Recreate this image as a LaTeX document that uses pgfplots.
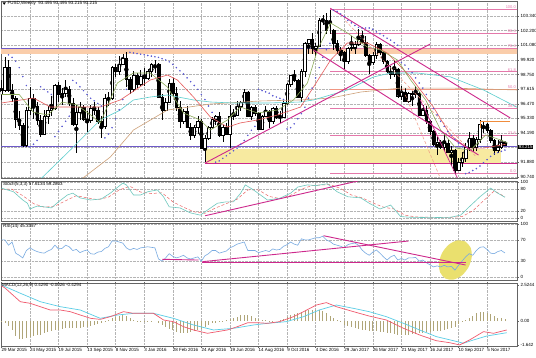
\documentclass[border=0pt]{standalone}
\usepackage{fontspec}
\setmainfont{Liberation Sans}
\usepackage{pgfplots}
\pgfplotsset{compat=1.18}
\usepackage{pgfplotstable}
\definecolor{gridc}{RGB}{180,180,180}
\definecolor{framec}{RGB}{100,100,100}
\definecolor{purpl}{RGB}{110,90,200}
\definecolor{orangeband}{RGB}{250,205,170}
\definecolor{yellowbox}{RGB}{247,234,160}
\definecolor{magen}{RGB}{205,40,140}
\definecolor{fibc}{RGB}{228,120,170}
\definecolor{mared}{RGB}{230,90,90}
\definecolor{magreen}{RGB}{140,170,90}
\definecolor{macyan}{RGB}{90,205,205}
\definecolor{matan}{RGB}{205,160,120}
\definecolor{sarc}{RGB}{90,90,210}
\definecolor{stochc}{RGB}{110,200,190}
\definecolor{stochs}{RGB}{235,100,100}
\definecolor{rsic}{RGB}{120,170,225}
\definecolor{macdr}{RGB}{240,90,110}
\definecolor{macdc}{RGB}{90,205,230}
\definecolor{histc}{RGB}{175,165,120}
\definecolor{ellc}{RGB}{234,224,110}
\definecolor{orangel}{RGB}{240,140,60}
\definecolor{salm}{RGB}{240,150,130}
\newcommand{\tf}{\fontsize{4.5}{5}\selectfont}
\pgfplotsset{
  panel/.style={scale only axis, width=516pt, xmin=-0.1, xmax=144.38,
    axis line style={framec, line width=0.7pt},
    xtick={0,8,...,136}, xticklabels={}, xmajorgrids,
    major grid style={gridc, densely dotted, line width=0.35pt},
    yticklabel pos=right, ytick pos=right, tick align=outside,
    major tick length=1.5pt, tick style={framec, line width=0.4pt},
    xtick style={draw=none},
    yticklabel style={font=\tf, anchor=west, inner sep=0pt, xshift=2pt},
    clip=true},
  mainbox/.style={scale only axis, width=516pt, height=177pt, xmin=-0.1, xmax=144.38,
    ymin=90.662, ymax=104.514, at={(1pt,356pt)}, anchor=north west, clip=true},
  candlewick/.style={black, only marks, mark=none, error bars/.cd, y dir=both, y explicit, error mark=none, error bar style={draw=black, line width=0.5pt}},
}
\pgfplotstableread{
i o h l c
0 97.2 98.3 96.8 97.5
1 97.5 100.1 97.4 99.3
2 99.3 99.9 97.4 97.5
3 97.5 98.0 96.6 96.9
4 96.9 97.1 94.6 95.3
5 95.3 95.9 94.4 94.8
6 94.8 95.0 93.1 93.2
7 93.2 96.2 93.1 96.0
8 96.0 97.8 95.6 96.9
9 96.9 97.2 95.3 96.3
10 96.3 96.6 94.8 95.2
11 95.2 95.6 93.9 94.1
12 94.1 96.0 94.0 95.5
13 95.5 96.3 94.9 96.0
14 96.0 97.1 95.5 96.1
15 96.1 98.0 96.0 97.9
16 97.9 98.2 96.6 97.2
17 97.2 97.7 96.4 97.3
18 97.3 98.3 97.0 97.6
19 97.6 97.9 96.3 96.5
20 96.5 96.9 94.7 94.9
21 94.9 96.4 92.6 95.8
22 95.8 96.6 95.2 96.2
23 96.2 96.4 95.1 95.3
24 95.3 95.9 94.3 95.2
25 95.2 96.4 95.0 96.1
26 96.1 96.6 95.6 96.0
27 96.0 96.2 94.9 95.1
28 95.1 95.5 93.8 94.7
29 94.7 97.2 94.5 96.9
30 96.9 97.4 96.3 96.9
31 96.9 99.4 96.8 99.3
32 99.3 99.6 98.6 99.0
33 99.0 100.2 98.7 99.6
34 99.6 100.4 99.5 100.0
35 100.0 100.5 97.8 98.4
36 98.4 98.6 97.2 97.6
37 97.6 99.0 97.4 98.7
38 98.7 98.9 97.7 98.0
39 98.0 99.1 97.9 98.6
40 98.6 99.3 97.9 98.5
41 98.5 99.2 98.3 99.0
42 99.0 99.7 98.6 99.6
43 99.6 99.9 98.9 99.6
44 99.6 99.7 96.9 97.0
45 97.0 97.2 95.2 96.0
46 96.0 96.9 95.9 96.6
47 96.6 98.4 96.5 98.1
48 98.1 98.5 97.1 97.3
49 97.3 97.8 95.9 96.2
50 96.2 96.7 94.6 95.1
51 95.1 96.1 94.9 95.9
52 95.9 96.3 94.6 94.6
53 94.6 95.0 93.6 94.0
54 94.0 94.8 93.8 94.6
55 94.6 95.5 94.1 95.1
56 95.1 95.3 92.9 93.0
57 93.0 94.0 91.9 93.8
58 93.8 94.7 93.6 94.6
59 94.6 95.4 94.5 95.3
60 95.3 95.6 94.8 95.5
61 95.5 95.8 93.9 94.0
62 94.0 94.8 93.5 94.6
63 94.6 95.0 94.0 94.1
64 94.1 96.4 93.0 95.5
65 95.5 96.1 95.2 95.6
66 95.6 96.7 95.6 96.3
67 96.3 96.7 95.9 96.6
68 96.6 97.6 96.5 97.4
69 97.4 97.5 95.5 95.5
70 95.5 96.3 95.2 96.2
71 96.2 96.4 95.5 95.7
72 95.7 95.8 94.5 94.5
73 94.5 95.6 94.4 95.5
74 95.5 96.3 95.4 95.9
75 95.9 96.0 94.6 95.1
76 95.1 96.2 94.9 96.1
77 96.1 96.3 95.3 95.4
78 95.4 95.9 95.0 95.4
79 95.4 96.7 95.4 96.5
80 96.5 98.1 96.4 98.0
81 98.0 98.7 97.8 98.7
82 98.7 99.1 98.2 98.3
83 98.3 98.4 96.9 97.0
84 97.0 99.2 96.6 99.0
85 99.0 101.3 98.6 101.2
86 101.2 101.5 100.4 101.5
87 101.5 102.0 100.4 100.8
88 100.8 101.2 100.2 101.0
89 101.0 103.2 100.9 103.0
90 103.0 103.4 102.6 103.0
91 103.0 103.6 101.9 102.2
92 102.2 103.8 101.9 102.2
93 102.2 102.3 100.7 101.2
94 101.2 101.5 100.4 100.7
95 100.7 100.9 99.8 100.5
96 100.5 100.6 99.2 99.8
97 99.8 100.9 99.6 100.8
98 100.8 101.8 100.6 100.9
99 100.9 101.4 100.4 101.1
100 101.1 102.3 101.0 101.5
101 101.5 102.2 101.2 101.3
102 101.3 101.8 100.1 100.3
103 100.3 100.4 98.8 99.7
104 99.7 100.5 99.5 100.3
105 100.3 101.3 100.0 101.1
106 101.1 101.2 100.3 100.5
107 100.5 100.6 99.6 99.8
108 99.8 99.9 98.9 99.0
109 99.0 99.4 98.4 98.8
110 98.8 99.9 98.6 99.2
111 99.2 99.3 96.9 97.1
112 97.1 97.9 96.8 97.4
113 97.4 97.7 96.6 96.7
114 96.7 97.4 96.5 97.3
115 97.3 97.5 96.3 97.2
116 97.2 97.9 96.9 97.3
117 97.3 97.4 95.5 95.6
118 95.6 96.4 95.5 96.0
119 96.0 96.3 94.9 95.1
120 95.1 95.2 94.0 94.3
121 94.3 94.4 93.2 93.3
122 93.3 93.9 92.5 93.5
123 93.5 93.6 92.9 93.1
124 93.1 94.1 92.8 93.4
125 93.4 93.7 92.6 92.7
126 92.7 93.2 91.6 92.8
127 92.8 92.9 91.0 91.3
128 91.3 92.2 91.3 91.9
129 91.9 92.7 91.5 92.2
130 92.2 93.4 91.9 93.1
131 93.1 94.3 92.8 93.8
132 93.8 94.0 92.7 93.1
133 93.1 93.9 92.8 93.7
134 93.7 95.2 93.4 94.9
135 94.9 95.1 94.2 94.9
136 94.9 95.0 94.2 94.4
137 94.4 94.5 93.4 93.6
138 93.6 93.7 92.5 92.8
139 92.8 93.6 92.6 93.1
140 93.1 94.0 92.9 93.5
141 93.495 93.495 93.215 93.215
}\candles
\pgfplotstableread{
i v
0 -0.05
1 -0.15
2 -0.3
3 -0.6
4 -0.95
5 -1.2
6 -1.2
7 -1.1
8 -1.02
9 -0.95
10 -0.9
11 -0.88
12 -0.8
13 -0.72
14 -0.65
15 -0.6
16 -0.55
17 -0.5
18 -0.47
19 -0.46
20 -0.47
21 -0.47
22 -0.42
23 -0.38
24 -0.36
25 -0.3
26 -0.25
27 -0.2
28 -0.14
29 -0.02
30 0.08
31 0.18
32 0.3
33 0.36
34 0.41
35 0.32
36 0.2
37 0.08
38 0.04
39 0.02
40 0.02
41 0.02
42 0.01
43 0.0
44 -0.1
45 -0.25
46 -0.4
47 -0.5
48 -0.58
49 -0.7
50 -0.78
51 -0.8
52 -0.78
53 -0.72
54 -0.65
55 -0.55
56 -0.5
57 -0.4
58 -0.28
59 -0.14
60 -0.1
61 -0.06
62 -0.03
63 0.05
64 0.12
65 0.19
66 0.3
67 0.41
68 0.43
69 0.41
70 0.32
71 0.22
72 0.12
73 0.08
74 0.05
75 0.03
76 0.02
77 0.0
78 0.08
79 0.15
80 0.25
81 0.4
82 0.48
83 0.52
84 0.6
85 0.7
86 0.74
87 0.74
88 0.74
89 0.74
90 0.65
91 0.52
92 0.35
93 0.19
94 0.05
95 -0.05
96 -0.22
97 -0.3
98 -0.4
99 -0.47
100 -0.5
101 -0.55
102 -0.58
103 -0.62
104 -0.65
105 -0.68
106 -0.7
107 -0.72
108 -0.76
109 -0.8
110 -0.84
111 -0.88
112 -0.9
113 -0.91
114 -0.9
115 -0.87
116 -0.84
117 -0.8
118 -0.77
119 -0.73
120 -0.7
121 -0.68
122 -0.65
123 -0.62
124 -0.58
125 -0.52
126 -0.45
127 -0.36
128 -0.2
129 -0.02
130 0.1
131 0.19
132 0.35
133 0.52
134 0.6
135 0.63
136 0.55
137 0.45
138 0.32
139 0.22
140 0.19
141 0.15
}\hist
\pgfplotstableread{
i v
0 70
1 70
2 60
3 66
4 45
5 41
6 36
7 50
8 55
9 51
10 48
11 46
12 45
13 49
14 52
15 60
16 53
17 54
18 60
19 57
20 50
21 52
22 46
23 49
24 51
25 44
26 43
27 47
28 48
29 54
30 57
31 68
32 68
33 66
34 64
35 55
36 51
37 54
38 52
39 55
40 56
41 57
42 56
43 55
44 34
45 30
46 36
47 44
48 39
49 36
50 38
51 41
52 36
53 34
54 36
55 38
56 30
57 40
58 44
59 50
60 50
61 45
62 47
63 49
64 55
65 58
66 62
67 64
68 66
69 50
70 50
71 50
72 46
73 48
74 50
75 48
76 53
77 51
78 52
79 58
80 61
81 66
82 62
83 60
84 72
85 70
86 70
87 72
88 74
89 74
90 77
91 70
92 67
93 62
94 60
95 58
96 55
97 61
98 63
99 64
100 60
101 51
102 45
103 41
104 47
105 51
106 45
107 38
108 32
109 38
110 41
111 32
112 35
113 32
114 36
115 36
116 37
117 30
118 32
119 27
120 23
121 19
122 21
123 19
124 22
125 19
126 20
127 13
128 22
129 30
130 38
131 44
132 41
133 50
134 56
135 57
136 52
137 45
138 44
139 48
140 50
141 45.3
}\rsi
\begin{document}
\begin{tikzpicture}
\useasboundingbox (0,0) rectangle (536pt,357pt);
\fill[white] (0,0) rectangle (536pt,357pt);
% ===== main price panel: background layer =====
\begin{axis}[panel, at={(1pt,356pt)}, anchor=north west, height=177pt,
  ymin=90.662, ymax=104.514, ymajorgrids,
  ytick={90.74,91.88,93.05,94.19,95.33,96.47,97.615,98.75,99.92,101.08,102.20,103.34},
  yticklabels={90.740,91.880,{},94.190,95.330,96.470,97.615,98.750,99.920,101.080,102.200,103.340}]
\addplot[fill=orangeband, draw=none] coordinates {(-1,100.35) (146,100.35) (146,100.72) (-1,100.72)};
\addplot[fill=yellowbox, draw=none] coordinates {(57.1,91.84) (140,91.84) (140,92.95) (57.1,92.95)};
\addplot[purpl, line width=0.9pt] coordinates {(-1,100.78) (146,100.78)};
\addplot[purpl, line width=0.9pt] coordinates {(-1,93.12) (146,93.12)};
\addplot[magen, line width=0.8pt] coordinates {(57.1,91.84) (146,91.84)};
\addplot[fibc, line width=0.5pt] coordinates {(92.1,103.86) (146,103.86)};
\addplot[fibc, line width=0.5pt] coordinates {(92.1,101.99) (146,101.99)};
\addplot[fibc, line width=0.5pt] coordinates {(92.1,100.81) (146,100.81)};
\addplot[fibc, line width=0.5pt] coordinates {(92.1,98.98) (146,98.98)};
\addplot[salm, line width=0.6pt] coordinates {(92.1,97.60) (146,97.60)};
\addplot[fibc, line width=0.5pt] coordinates {(92.1,96.12) (146,96.12)};
\addplot[fibc, line width=0.5pt] coordinates {(92.1,94.03) (146,94.03)};
\addplot[fibc, line width=0.5pt] coordinates {(92.1,91.01) (146,91.01)};
\addplot[candlewick] table[x=i, y expr={(\thisrow{h}+\thisrow{l})/2}, y error expr={(\thisrow{h}-\thisrow{l})/2}] {\candles};
\end{axis}
% ===== candle bodies (stacked bars) =====
\begin{axis}[mainbox, hide axis, ybar stacked, bar width=2.5pt]
\addplot[draw=none, fill=none] table[x=i, y expr={min(\thisrow{o},\thisrow{c})}] {\candles};
\addplot[draw=black, fill=white, line width=0.45pt] table[x=i, y expr={max(\thisrow{c}-\thisrow{o},0)}] {\candles};
\addplot[draw=black, fill=black, line width=0.45pt] table[x=i, y expr={max(\thisrow{o}-\thisrow{c},0)}] {\candles};
\end{axis}
% ===== overlays =====
\begin{axis}[mainbox, hide axis]
\addplot[matan, line width=0.6pt] coordinates {(22.1,90.5) (30.5,92.3) (37,94.42) (46.5,95.98) (58.5,96.45) (72.5,96.69) (83.8,96.77) (92.2,96.92) (100.6,97.39) (111.8,97.7) (125.8,97.7) (144.4,97.55)};
\addplot[macyan, line width=0.6pt] coordinates {(10.6,90.5) (11.8,90.8) (19.3,92.85) (27.7,95.2) (33.3,95.98) (37,96.77) (41.7,97.0) (46.5,97.16) (53.8,96.77) (58.5,96.61) (65,96.53) (74.5,96.53) (83.8,96.61) (87.4,96.77) (96.9,97.55) (104.2,98.57) (109,98.88) (116.5,98.88) (125.8,98.57) (135,97.55) (144.4,96.2)};
\addplot[mared, line width=0.6pt] coordinates {(0,96.53) (9,96.92) (13.7,96.22) (24.1,96.22) (27.7,96.22) (33.3,96.77) (41.7,98.33) (46.5,98.72) (49.3,98.33) (53.8,97.0) (58.5,95.44) (63.3,94.65) (66.9,94.97) (71.7,95.2) (77.3,95.59) (83.8,96.22) (87.4,97.78) (92.2,99.9) (96.9,101.23) (102.5,101.23) (108.1,100.44) (114.6,98.57) (121,96.2) (125.8,94.0) (130.5,93.0) (135,93.0) (141.2,93.3)};
\addplot[magreen, line width=0.6pt] coordinates {(0,97.2) (5,97.2) (9,95.8) (13,95.6) (17,96.6) (21,96.4) (25,95.6) (27.7,94.97) (32.5,98.1) (37,98.88) (41.7,98.88) (46.5,97.78) (51,95.75) (55.7,95.2) (58.5,94.42) (63.3,95.2) (66.9,96.22) (71.7,95.75) (77.3,95.98) (81.8,96.77) (85.7,98.1) (88.5,100.68) (92.2,102.79) (96.9,102.01) (102.5,100.91) (106.2,100.68) (110.9,99.9) (114.6,98.33) (118.8,96.77) (123,94.42) (127.2,93.01) (131.4,92.85) (135.6,94.03) (139.8,93.64) (141.7,93.4)};
\addplot[salm, densely dashed, line width=0.5pt] coordinates {(96.3,102.97) (132.7,92.4)};
\addplot[salm, densely dashed, line width=0.5pt] coordinates {(113.1,97.16) (122.9,90.66)};
\addplot[magen, line width=0.9pt] coordinates {(57.1,91.84) (120.1,101.15)};
\addplot[magen, line width=0.9pt] coordinates {(92.1,103.94) (142.5,95.36)};
\addplot[magen, line width=0.9pt] coordinates {(87.4,100.68) (133.6,92.46)};
\addplot[magen, line width=0.7pt] coordinates {(117.3,96.77) (127.7,90.66)};
\addplot[orangel, line width=0.8pt] coordinates {(134,94.6) (134,95.07) (142.5,95.07)};
\addplot[only marks, mark=*, mark size=0.55pt, sarc] coordinates {
(2,100.3) (3,100.1) (4,99.8) (5,99.3) (6,98.6) (7,97.9)
(8,93.1) (9,93.3) (10,93.6)
(11,97.8) (12,97.6) (13,97.4) (14,97.2)
(15,93.9) (16,94.3) (17,94.7) (18,95.1) (19,95.5)
(20,98.3) (21,98.1) (22,97.8) (23,97.5) (24,97.2) (25,96.9) (26,96.7) (27,96.5) (28,96.3)
(29,93.8) (30,94.1) (31,94.6) (32,95.3) (33,96.0) (34,96.8) (35,97.6)
(36,100.5) (37,100.45) (38,100.4) (39,100.35) (40,100.3) (41,100.25) (42,100.2) (43,100.15)
(44,100.1) (45,100.0) (46,99.9) (47,99.75) (48,99.55) (49,99.3) (50,99.05) (51,98.8) (52,98.5) (53,98.2) (54,97.9) (55,97.6) (56,97.2) (57,96.8) (58,96.3) (59,95.8)
(60,91.9) (61,92.0) (62,92.2) (63,92.4) (64,92.6) (65,92.8) (66,93.0) (67,93.3) (68,93.6) (69,94.0) (70,94.4) (71,94.7)
(72,97.6) (73,97.5) (74,97.4) (75,97.3) (76,97.1) (77,97.0) (78,96.9) (79,96.8)
(80,94.5) (81,94.6) (82,94.9) (83,95.3) (84,95.7) (85,96.2) (86,96.9) (87,97.7) (88,98.5) (89,99.3) (90,100.1) (91,100.7) (92,101.2)
(93,103.8) (94,103.7) (95,103.5) (96,103.3) (97,103.0) (98,102.8) (99,102.6) (100,102.45) (101,102.4) (102,102.4)
(103,102.4) (104,102.3) (105,102.1) (106,101.95) (107,101.8) (108,101.6) (109,101.45) (110,101.25) (111,101.05)
(112,99.7) (113,99.5) (114,99.2) (115,98.9) (116,98.5) (117,98.1) (118,97.7) (119,97.2) (120,96.7) (121,96.1) (122,95.6) (123,95.1) (124,94.7) (125,94.3) (126,94.0) (127,93.7) (128,93.4) (129,93.1)
(130,91.0) (131,91.1) (132,91.25) (133,91.4) (134,91.6) (135,91.85) (136,92.1) (137,92.35) (138,92.55) (139,92.65) (140,92.75) (141,92.85)};
\node[font=\fontsize{4}{4.5}\selectfont, text=fibc, anchor=south east, inner sep=0.4pt] at (axis cs:144.2,103.86) {100.0};
\node[font=\fontsize{4}{4.5}\selectfont, text=fibc, anchor=south east, inner sep=0.4pt] at (axis cs:144.2,101.99) {86.4};
\node[font=\fontsize{4}{4.5}\selectfont, text=fibc, anchor=south east, inner sep=0.4pt] at (axis cs:144.2,100.81) {76.4};
\node[font=\fontsize{4}{4.5}\selectfont, text=fibc, anchor=south east, inner sep=0.4pt] at (axis cs:144.2,98.98) {61.8};
\node[font=\fontsize{4}{4.5}\selectfont, text=fibc, anchor=south east, inner sep=0.4pt] at (axis cs:144.2,97.60) {50.0};
\node[font=\fontsize{4}{4.5}\selectfont, text=fibc, anchor=south east, inner sep=0.4pt] at (axis cs:144.2,96.12) {38.2};
\node[font=\fontsize{4}{4.5}\selectfont, text=fibc, anchor=south east, inner sep=0.4pt] at (axis cs:144.2,94.03) {23.6};
\node[font=\fontsize{4}{4.5}\selectfont, text=fibc, anchor=south east, inner sep=0.4pt] at (axis cs:144.2,91.01) {0.0};
\end{axis}
% ===== stochastic panel =====
\begin{axis}[panel, at={(1pt,176pt)}, anchor=north west, height=40pt,
  ymin=-8.33, ymax=102.78, ytick={0,20,80,100}, yticklabels={0,20,80,100}, ymajorgrids]
\addplot[stochs, densely dashed, line width=0.5pt] coordinates {(0,80) (3,80) (6,62) (9,40) (12,30) (15,33) (18,48) (21,62) (24,56) (27,51) (30,58) (33,78) (36,88) (39,72) (42,68) (45,70) (48,45) (51,30) (54,17) (57,13) (60,28) (63,40) (66,52) (69,78) (72,78) (75,60) (78,54) (81,63) (84,80) (87,90) (92,93) (95,82) (98,64) (101,56) (104,42) (107,30) (110,25) (113,8) (116,3) (120,2) (126,2) (129,4) (132,20) (135,48) (138,75) (141,59.3)};
\addplot[stochc, line width=0.6pt] coordinates {(0,83) (3.4,73) (6,50) (7.3,41) (8,25) (10,33) (12,31) (14,28) (16,45) (18.5,64) (20,69) (22,56) (25,50) (28,53) (30.5,69) (34,97) (35,92) (37,64) (39,64) (41,73) (43.7,78) (45.4,59) (47,31) (50,28) (53,14) (55.7,8) (57.7,22) (60.5,41) (63,45) (65,45) (67,69) (68.3,92) (70.6,78) (74.5,50) (78,55) (81,69) (83,86) (85.7,92) (88,90) (91.3,95) (94,73) (97,59) (100.6,56) (103,41) (106,25) (109,36) (111.8,4) (114.6,2) (120,1) (125.8,2) (128.6,8) (131,31) (134,59) (137,83) (139,69) (141,57.6)};
\addplot[magen, line width=0.9pt] coordinates {(57.1,6.4) (99.8,102.8)};
\end{axis}
% ===== RSI panel =====
\begin{axis}[panel, at={(1pt,134pt)}, anchor=north west, height=57pt,
  ymin=-5.66, ymax=101.89, ytick={0,30,70,100}, yticklabels={0,30,70,100}, ymajorgrids]
\addplot[fill=ellc, draw=none, smooth] coordinates {(129.88,67.06) (131.37,55.74) (131.71,38.08) (130.83,18.79) (128.96,3.09) (126.59,-4.87) (124.36,-2.91) (122.88,8.42) (122.53,26.08) (123.41,45.36) (125.29,61.06) (127.65,69.02) (129.88,67.06)};
\addplot[rsic, line width=0.6pt] table[x=i, y=v] {\rsi};
\addplot[magen, line width=0.9pt] coordinates {(45.1,33.4) (55.2,32)};
\addplot[magen, line width=0.9pt] coordinates {(56.3,28.9) (114,67.9)};
\addplot[magen, line width=0.9pt] coordinates {(56.3,27) (130,27)};
\addplot[magen, line width=0.9pt] coordinates {(90.2,77.9) (130,22.6)};
\end{axis}
% ===== MACD panel =====
\begin{axis}[panel, at={(1pt,74pt)}, anchor=north west, height=63pt,
  ymin=-1.640, ymax=2.526, ytick={-1.57,0,2.39}, yticklabels={-1.642,0.00,2.5244},
  xtick style={draw=framec, line width=0.4pt},
  xticklabels={29 Mar 2015,24 May 2015,19 Jul 2015,13 Sep 2015,8 Nov 2015,3 Jan 2016,28 Feb 2016,24 Apr 2016,19 Jun 2016,14 Aug 2016,9 Oct 2016,4 Dec 2016,29 Jan 2017,26 Mar 2017,21 May 2017,16 Jul 2017,10 Sep 2017,5 Nov 2017},
  xticklabel style={font=\tf, anchor=north west, inner sep=0pt, yshift=-1pt}]
\addplot[ycomb, histc, line width=0.7pt] table[x=i, y=v] {\hist};
\addplot[macdc, line width=0.7pt] coordinates {(0,2.4) (1.1,2.28) (5.3,1.85) (10.9,1.29) (16.5,0.96) (22.1,0.74) (27.7,0.19) (32.5,0.41) (37,0.52) (42.6,0.52) (48.2,0.19) (53.8,-0.25) (59.4,-0.58) (65,-0.47) (70.6,-0.25) (74.5,-0.14) (79.8,-0.03) (84.6,0.30) (89,0.74) (93.8,1.07) (98.6,0.85) (103,0.63) (107.8,0.30) (112.6,-0.14) (117.1,-0.58) (121.8,-1.02) (126.6,-1.29) (129.4,-1.46) (132.2,-1.24) (135.9,-0.98) (141.5,-0.76)};
\addplot[macdr, line width=0.7pt] coordinates {(0,2.35) (1.1,2.18) (5.3,1.29) (8.1,1.18) (10.9,0.96) (13.7,0.74) (16.5,0.74) (19.3,0.63) (22.1,0.41) (25,0.19) (27.7,0.12) (30.5,0.30) (34.2,0.63) (37,0.52) (39.8,0.52) (42.6,0.52) (45.4,0.08) (48.2,-0.03) (51,-0.36) (53.8,-0.58) (57.7,-0.80) (60.5,-0.69) (63.3,-0.58) (66.1,-0.36) (69,-0.10) (71.7,-0.10) (74.5,-0.14) (77.9,-0.03) (81.8,0.30) (84.6,0.63) (88.2,1.07) (91,1.23) (93.8,0.96) (98.6,0.63) (103,0.34) (107.8,0.08) (112.6,-0.47) (117.1,-0.91) (121.8,-1.29) (125.5,-1.42) (128.3,-1.57) (131.1,-1.24) (135,-0.69) (137.8,-0.80) (141.5,-0.58)};
\end{axis}
% ===== texts =====
\fill[black] (2.5pt,354.6pt) -- (5.9pt,354.6pt) -- (4.2pt,352.2pt) -- cycle;
\node[font=\tf, anchor=west, inner sep=0pt] at (7.5pt,353.2pt) {FUSD,Weekly \ 93.495 93.495 93.215 93.215};
\node[font=\tf, anchor=west, inner sep=0pt] at (3pt,173pt) {Stoch(5,3,3) 57.6134 59.2803};
\node[font=\tf, anchor=west, inner sep=0pt] at (3pt,130.5pt) {RSI(14) 45.3357};
\node[font=\tf, anchor=west, inner sep=0pt] at (2pt,71.5pt) {MACD(12,26,9) 0.4290 -0.0026 -0.4294};
\node[font=\tf, fill=black, text=white, anchor=west, inner sep=0.7pt] at (518pt,210pt) {93.215};
\end{tikzpicture}
\end{document}
